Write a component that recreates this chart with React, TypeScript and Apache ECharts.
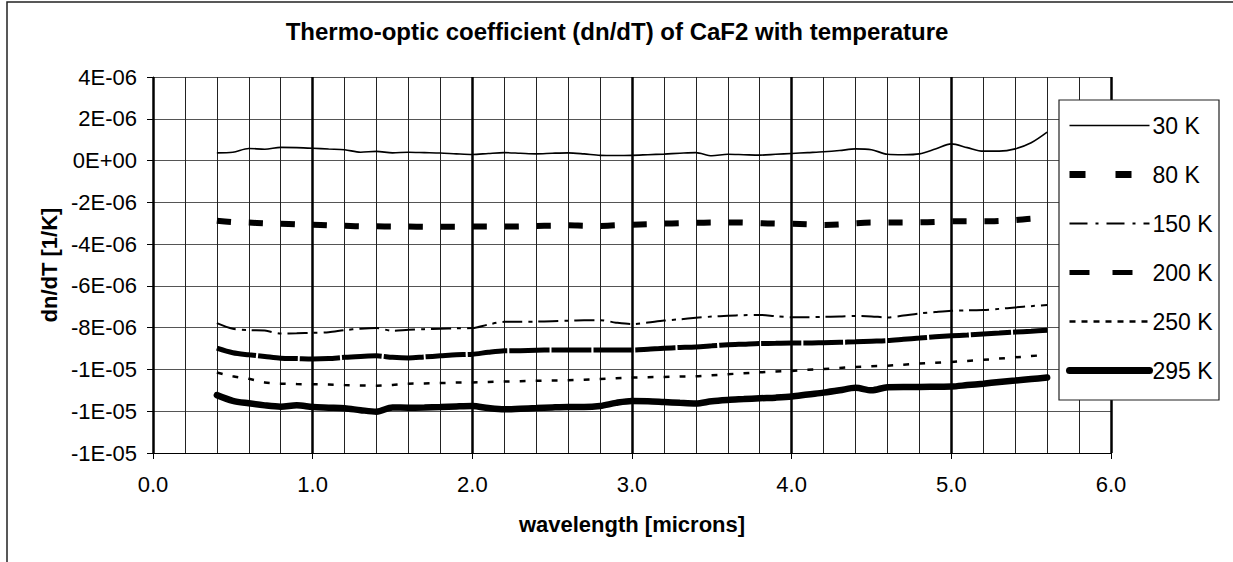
import React, { useEffect, useRef } from "react";
import * as echarts from "echarts";

const TITLE = "Thermo-optic coefficient (dn/dT) of CaF2 with temperature";
const X_NAME = "wavelength [microns]";
const Y_NAME = "dn/dT [1/K]";
const SCALE = 1e-6; // values below are in units of 1e-6 /K

const wavelengths = [
  0.4, 0.5, 0.6, 0.7, 0.8, 0.9, 1.0, 1.1, 1.2, 1.3,
  1.4, 1.5, 1.6, 1.7, 1.8, 1.9, 2.0, 2.1, 2.2, 2.3,
  2.4, 2.5, 2.6, 2.7, 2.8, 2.9, 3.0, 3.1, 3.2, 3.3,
  3.4, 3.5, 3.6, 3.7, 3.8, 3.9, 4.0, 4.1, 4.2, 4.3,
  4.4, 4.5, 4.6, 4.7, 4.8, 4.9, 5.0, 5.1, 5.2, 5.3,
  5.4, 5.5, 5.6,
];

const k30 = [
  0.37, 0.40, 0.58, 0.54, 0.63, 0.62, 0.59, 0.55, 0.52, 0.40,
  0.44, 0.37, 0.40, 0.38, 0.36, 0.32, 0.29, 0.34, 0.38, 0.35,
  0.32, 0.35, 0.37, 0.32, 0.25, 0.24, 0.25, 0.28, 0.31, 0.35,
  0.38, 0.23, 0.30, 0.28, 0.26, 0.30, 0.34, 0.38, 0.42, 0.48,
  0.56, 0.52, 0.30, 0.28, 0.32, 0.55, 0.80, 0.62, 0.45, 0.45,
  0.56, 0.85, 1.36,
];
const k80 = [
  -2.88, -2.95, -2.97, -3.0, -3.02, -3.05, -3.07, -3.1, -3.12, -3.15,
  -3.15, -3.16, -3.16, -3.17, -3.17, -3.17, -3.16, -3.16, -3.16, -3.15,
  -3.13, -3.12, -3.1, -3.12, -3.13, -3.1, -3.07, -3.05, -3.02, -3.0,
  -2.98, -2.97, -2.96, -2.97, -3.0, -3.02, -3.03, -3.05, -3.08, -3.06,
  -3.0, -2.97, -2.97, -2.97, -2.96, -2.94, -2.91, -2.91, -2.91, -2.89,
  -2.85, -2.78, -2.76,
];
const k150 = [
  -7.78, -8.05, -8.12, -8.14, -8.28, -8.27, -8.25, -8.22, -8.12, -8.05,
  -8.02, -8.15, -8.1, -8.07, -8.05, -8.03, -8.02, -7.85, -7.72, -7.72,
  -7.71, -7.69, -7.67, -7.65, -7.64, -7.76, -7.83, -7.75, -7.66, -7.6,
  -7.53, -7.47, -7.43, -7.4, -7.39, -7.45, -7.5, -7.5, -7.48, -7.47,
  -7.44, -7.46, -7.51, -7.42, -7.32, -7.25, -7.19, -7.17, -7.16, -7.1,
  -7.03, -6.97, -6.91,
];
const k200 = [
  -8.98, -9.2, -9.3, -9.38, -9.46, -9.48, -9.5, -9.48, -9.42, -9.38,
  -9.35, -9.42, -9.45, -9.4, -9.35, -9.3, -9.27, -9.18, -9.11, -9.1,
  -9.08, -9.07, -9.07, -9.07, -9.07, -9.07, -9.07, -9.03, -8.98, -8.95,
  -8.92, -8.87, -8.82, -8.79, -8.76, -8.75, -8.74, -8.74, -8.72, -8.7,
  -8.68, -8.65, -8.62, -8.56, -8.5, -8.44, -8.39, -8.35, -8.3, -8.26,
  -8.21, -8.17, -8.12,
];
const k250 = [
  -10.15, -10.33, -10.45, -10.62, -10.68, -10.7, -10.71, -10.72, -10.75, -10.77,
  -10.78, -10.74, -10.68, -10.67, -10.65, -10.63, -10.62, -10.6, -10.58, -10.56,
  -10.54, -10.53, -10.52, -10.49, -10.46, -10.42, -10.39, -10.37, -10.36, -10.34,
  -10.33, -10.28, -10.23, -10.18, -10.14, -10.1, -10.07, -10.02, -9.98, -9.93,
  -9.88, -9.85, -9.82, -9.77, -9.72, -9.68, -9.64, -9.59, -9.54, -9.48,
  -9.42, -9.36, -9.3,
];
const k295 = [
  -11.23, -11.5, -11.62, -11.72, -11.78, -11.72, -11.8, -11.83, -11.86, -11.95,
  -12.02, -11.82, -11.83, -11.82, -11.8, -11.77, -11.75, -11.85, -11.91, -11.88,
  -11.85, -11.82, -11.8, -11.8, -11.75, -11.6, -11.51, -11.52, -11.56, -11.6,
  -11.63, -11.52, -11.46, -11.42, -11.38, -11.35, -11.3, -11.2, -11.11, -11.0,
  -10.88, -11.0, -10.85, -10.84, -10.84, -10.83, -10.82, -10.75, -10.68, -10.6,
  -10.53, -10.46, -10.39,
];

const seriesNames = ["30 K", "80 K", "150 K", "200 K", "250 K", "295 K"];
const seriesValues = [k30, k80, k150, k200, k250, k295];

const FONT = 'Arial, "Liberation Sans", Helvetica, sans-serif';

const plotStyles: any[] = [
  { width: 1.6, type: "solid" },
  { width: 6, type: [14, 18] },
  { width: 2, type: [20, 6, 4, 6] },
  { width: 5, type: [40, 2] },
  { width: 2.5, type: [6, 10] },
  { width: 6.5, type: "solid", cap: "round" },
];
const legendStyles: any[] = [
  { width: 1.6, type: "solid" },
  { width: 7, type: [16, 30] },
  { width: 2, type: [18, 8, 3, 8] },
  { width: 5, type: [20, 23] },
  { width: 2.5, type: [6, 6] },
  { width: 7, type: "solid", cap: "round" },
];

function fmtExp(v: number): string {
  const s = v.toExponential(0);
  const [m, e] = s.split("e");
  const ex = parseInt(e, 10);
  const sign = ex < 0 ? "-" : "+";
  const abs = Math.abs(ex);
  return m + "E" + sign + (abs < 10 ? "0" + abs : String(abs));
}

export default function App() {
  const ref = useRef<HTMLDivElement>(null);
  useEffect(() => {
    if (!ref.current) return;
    const chart = echarts.init(ref.current, undefined, { renderer: "svg" });
    const series = seriesNames.map((name, i) => ({
      name,
      type: "line",
      xAxisIndex: 1,
      yAxisIndex: 0,
      showSymbol: false,
      symbol: "none",
      smooth: 0.3,
      data: wavelengths.map((w, j) => [w, seriesValues[i][j] * SCALE]),
      lineStyle: { color: "#000", ...plotStyles[i] },
      itemStyle: { color: "#000" },
      z: 3 + i,
    }));
    chart.setOption({
      animation: false,
      backgroundColor: "#fff",
      grid: { left: 153, right: 122, top: 77, bottom: 109, containLabel: false },
      graphic: [
        {
          type: "rect",
          shape: { x: 7, y: 2, width: 1400, height: 700 },
          style: { fill: "none", stroke: "#222", lineWidth: 1.5 },
          z: 0,
          silent: true,
        },
        {
          type: "text",
          x: 617,
          y: 31,
          style: {
            text: TITLE,
            font: `bold 24px ${FONT}`,
            fill: "#000",
            textAlign: "center",
            textVerticalAlign: "middle",
          },
          z: 10,
        },
        {
          type: "rect",
          shape: { x: 1059, y: 100, width: 160, height: 300 },
          style: { fill: "#fff", stroke: "#222", lineWidth: 1.2 },
          z: 8,
          silent: true,
        },
      ],
      legend: {
        orient: "vertical",
        left: 1066,
        top: 114,
        padding: 0,
        itemWidth: 80,
        itemHeight: 24,
        itemGap: 26,
        selectedMode: false,
        z: 12,
        textStyle: { fontSize: 23, fontFamily: FONT, color: "#000", padding: [0, 0, 0, -2] },
        data: seriesNames.map((name, i) => ({
          name,
          itemStyle: { opacity: 0, color: "transparent", borderWidth: 0 },
          lineStyle: { color: "#000", ...legendStyles[i] },
        })),
      },
      xAxis: [
        {
          type: "value",
          min: 0,
          max: 6,
          interval: 0.2,
          gridIndex: 0,
          position: "bottom",
          axisLine: { show: false },
          axisTick: { show: false },
          axisLabel: { show: false },
          splitLine: { show: true, lineStyle: { color: "#222", width: 1 } },
          z: 0,
        },
        {
          type: "value",
          min: 0,
          max: 6,
          interval: 1,
          gridIndex: 0,
          position: "bottom",
          name: X_NAME,
          nameLocation: "middle",
          nameGap: 60,
          nameTextStyle: { fontSize: 22, fontWeight: "bold", fontFamily: FONT, color: "#000" },
          axisLine: { show: true, onZero: false, lineStyle: { color: "#000", width: 1 } },
          axisTick: { show: true, inside: false, length: 6, lineStyle: { color: "#000" } },
          axisLabel: {
            margin: 20,
            fontSize: 22,
            fontFamily: FONT,
            color: "#000",
            formatter: (v: number) => v.toFixed(1),
          },
          splitLine: { show: true, lineStyle: { color: "#000", width: 2.5 } },
          z: 1,
        },
      ],
      yAxis: [
        {
          type: "value",
          min: -14e-6,
          max: 4e-6,
          interval: 2e-6,
          name: Y_NAME,
          nameLocation: "middle",
          nameGap: 90,
          nameTextStyle: { fontSize: 22, fontWeight: "bold", fontFamily: FONT, color: "#000" },
          axisLine: { show: true, lineStyle: { color: "#000", width: 1 } },
          axisTick: { show: true, inside: false, length: 6, lineStyle: { color: "#000" } },
          axisLabel: {
            margin: 16,
            fontSize: 22,
            fontFamily: FONT,
            color: "#000",
            formatter: (v: number) => fmtExp(v),
          },
          splitLine: { show: true, lineStyle: { color: "#555", width: 1.2 } },
        },
      ],
      series,
    });
    return () => chart.dispose();
  }, []);
  return (
    <div
      ref={ref}
      style={{ position: "absolute", left: 0, top: 0, width: 1233, height: 562, background: "#fff" }}
    />
  );
}
